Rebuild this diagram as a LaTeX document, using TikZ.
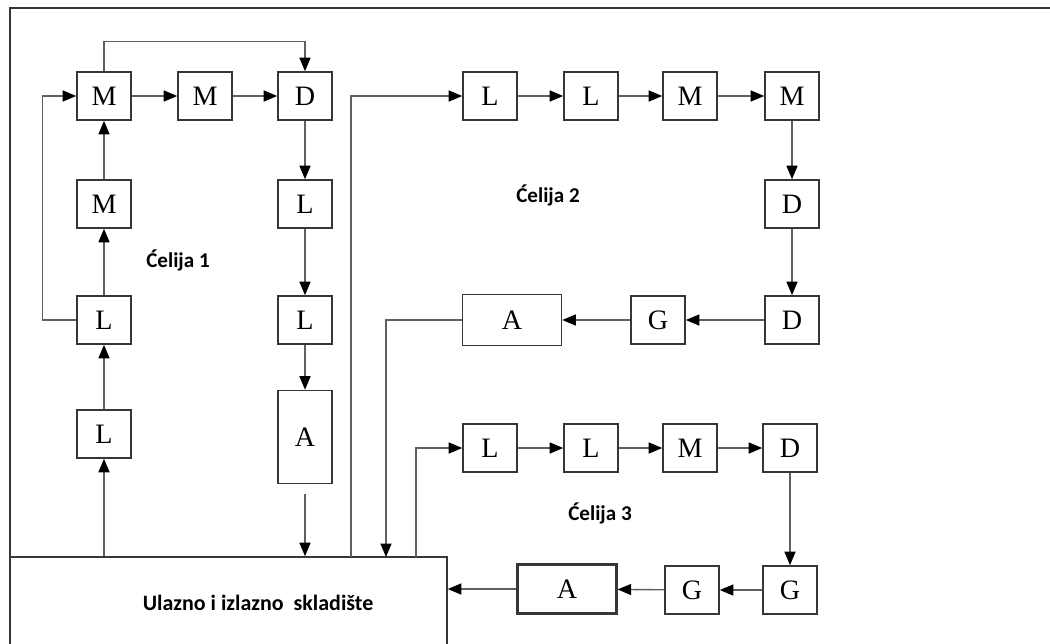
\documentclass[tikz,border=0pt]{standalone}
\usepackage{fontspec}
\setmainfont{Liberation Serif}
\newfontfamily\labelfont{Carlito}
\usetikzlibrary{arrows.meta, positioning}
\definecolor{edge}{RGB}{55,55,55}
\definecolor{wire}{RGB}{95,95,95}

\begin{document}
\begin{tikzpicture}[x=0.02cm, y=-0.02cm,
  stn/.style={rectangle, draw=edge, line width=0.9pt, fill=white,
    minimum width=1.08cm, minimum height=0.96cm, inner sep=0pt,
    font=\fontsize{16}{19}\selectfont},
  tall/.style={stn, minimum height=1.86cm},
  wide/.style={stn, minimum width=1.98cm, minimum height=1.02cm},
  cell/.style={font=\labelfont\fontsize{12}{14}\selectfont\bfseries},
  arrow/.style={-{Triangle[length=0.27cm, width=0.22cm, color=black]}, line width=0.8pt, wire}
]
\useasboundingbox (0,0) rectangle (1050,643);
\clip (0,0) rectangle (1050,643);

% Frame
\draw[edge, line width=0.9pt] (10,650) -- (10,8) -- (1050,8);

% Storage
\node[stn, minimum width=8.74cm, minimum height=1.84cm] at (228.5,603) (store) {};
\node[cell, font=\labelfont\fontsize{12.5}{14}\selectfont\bfseries] at (258,603) (storetxt) {Ulazno i izlazno\ \ skladište};
\coordinate (in2) at (351,557);
\coordinate (out2) at (386,557);
\coordinate (in3) at (416,557);

% Cell 1
\node[stn] at (104,96) (m1a) {M};
\node[stn] at (205,96) (m1c) {M};
\node[stn] at (305,96) (d1) {D};
\node[stn] at (104,204) (m1b) {M};
\node[stn] at (104,320) (l1a) {L};
\node[stn] at (104,434) (l1b) {L};
\node[stn] at (305,204) (l1c) {L};
\node[stn] at (305,320) (l1d) {L};
\node[tall] at (305,437) (a1) {A};
\node[cell] at (178,260) (c1) {Ćelija 1};

\draw[arrow] (l1b |- store.north) -- (l1b);
\draw[arrow] (l1b) -- (l1a);
\draw[arrow] (l1a) -- (m1b);
\draw[arrow] (m1b) -- (m1a);
\draw[arrow] (l1a.west) -- ++(-34,0) |- (m1a.west);
\draw[arrow] (m1a) -- (m1c);
\draw[arrow] (m1c) -- (d1);
\draw[arrow] (m1a.north) -- ++(0,-30) -| (d1.north);
\draw[arrow] (d1) -- (l1c);
\draw[arrow] (l1c) -- (l1d);
\draw[arrow] (l1d) -- (a1);
\draw[arrow] ([yshift=-0.2cm]a1.south) -- (a1 |- store.north);

% Cell 2
\node[stn] at (490,96) (l2a) {L};
\node[stn] at (591,96) (l2b) {L};
\node[stn] at (690,96) (m2a) {M};
\node[stn] at (792,96) (m2b) {M};
\node[stn] at (792,204) (d2a) {D};
\node[stn] at (792,320) (d2b) {D};
\node[stn] at (658,320) (g2) {G};
\node[wide] at (512,320) (a2) {A};
\node[cell] at (548,195) (c2) {Ćelija 2};

\draw[arrow] (in2) |- (l2a);
\draw[arrow] (l2a) -- (l2b);
\draw[arrow] (l2b) -- (m2a);
\draw[arrow] (m2a) -- (m2b);
\draw[arrow] (m2b) -- (d2a);
\draw[arrow] (d2a) -- (d2b);
\draw[arrow] (d2b) -- (g2);
\draw[arrow] (g2) -- (a2);
\draw[arrow] (a2) -| (out2);

% Cell 3
\node[stn] at (490,448) (l3a) {L};
\node[stn] at (591,448) (l3b) {L};
\node[stn] at (690,448) (m3) {M};
\node[stn] at (790,448) (d3) {D};
\node[stn] at (790,590) (g3a) {G};
\node[stn] at (692,590) (g3b) {G};
\node[wide, line width=1.3pt, minimum height=0.98cm] at (567,589) (a3) {A};
\node[cell] at (600,513) (c3) {Ćelija 3};

\draw[arrow] (in3) |- (l3a);
\draw[arrow] (l3a) -- (l3b);
\draw[arrow] (l3b) -- (m3);
\draw[arrow] (m3) -- (d3);
\draw[arrow] (d3) -- (g3a);
\draw[arrow] (g3a) -- (g3b);
\draw[arrow] (g3b) -- (a3);
\draw[arrow] (a3) -- (a3 -| store.east);

\end{tikzpicture}
\end{document}
